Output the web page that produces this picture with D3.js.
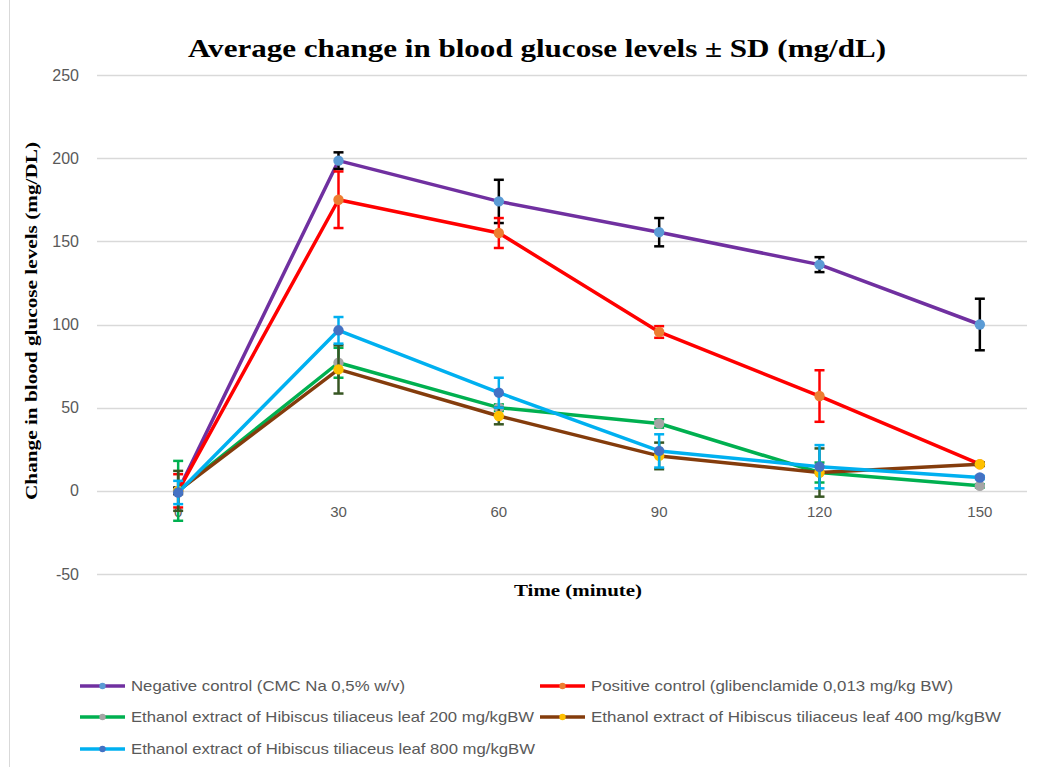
<!DOCTYPE html>
<html><head><meta charset="utf-8">
<script src="https://cdn.jsdelivr.net/npm/d3@7"></script>
<style>body{margin:0;background:#fff}svg{display:block}</style>
</head><body><div id="chart"></div>
<script>
const categories = ["0","30","60","90","120","150"];
const seriesNames = [
  "Negative control (CMC Na 0,5% w/v)",
  "Positive control (glibenclamide 0,013 mg/kg BW)",
  "Ethanol extract of Hibiscus tiliaceus leaf 200 mg/kgBW",
  "Ethanol extract of Hibiscus tiliaceus leaf 400 mg/kgBW",
  "Ethanol extract of Hibiscus tiliaceus leaf 800 mg/kgBW"
];
const negValues = [0, 198.5, 174, 155.5, 136, 100];
const negSD     = [2, 5, 13, 8.5, 4.5, 15.5];
const posValues = [0, 175, 155, 95.5, 57, 16];
const posSD     = [10, 17, 9, 3.5, 15.5, 1];
const e200Values = [0, 77, 50, 40.5, 11, 3];
const e200SD     = [18, 9, 2, 2.5, 6, 1];
const e400Values = [0, 73, 45, 21, 11, 16];
const e400SD     = [12, 14.5, 5, 8, 14.5, 1];
const e800Values = [-1, 96.5, 59, 24, 14.5, 8];
const e800SD     = [7, 8, 9, 10, 13, 1];
const yTicks = [-50, 0, 50, 100, 150, 200, 250];

const lineColors = ["#7030A0", "#FF0000", "#00B050", "#843C0C", "#00B0F0"];
const markerColors = ["#5B9BD5", "#ED7D31", "#A5A5A5", "#FFC000", "#4472C4"];
const errColors = ["#000000", "#FF0000", "#00B050", "#375623", "#00B0F0"];

const allValues = [negValues, posValues, e200Values, e400Values, e800Values];
const allSD = [negSD, posSD, e200SD, e400SD, e800SD];

const W = 1045, H = 767;
const svg = d3.select("#chart").append("svg").attr("width", W).attr("height", H);

svg.append("line").attr("x1", 9.5).attr("x2", 9.5).attr("y1", 0).attr("y2", H)
  .attr("stroke", "#d9d9d9").attr("stroke-width", 1);

const x = d3.scaleBand().domain(categories).range([98, 1060]);
const y = d3.scaleLinear().domain([-50, 250]).range([574, 75]);
const gridRight = 1027, gridLeft = 97;

svg.append("g").selectAll("line").data(yTicks).join("line")
  .attr("x1", gridLeft).attr("x2", gridRight)
  .attr("y1", d => Math.round(y(d)) + 0.5).attr("y2", d => Math.round(y(d)) + 0.5)
  .attr("stroke", "#d9d9d9").attr("stroke-width", 1.3);

const yAxis = d3.axisLeft(y).tickValues(yTicks).tickSize(0).tickPadding(0).tickFormat(d => String(d));
const gy = svg.append("g").attr("transform", "translate(79,0)").call(yAxis);
gy.select(".domain").remove();
gy.selectAll("text").attr("font-family", "Liberation Sans, Arial, sans-serif")
  .attr("font-size", 16).attr("fill", "#595959");

const xAxis = d3.axisBottom(x).tickSize(0).tickPadding(0);
const gx = svg.append("g").attr("transform", "translate(0,506)").call(xAxis);
gx.select(".domain").remove();
gx.selectAll("text").attr("font-family", "Liberation Sans, Arial, sans-serif")
  .attr("font-size", 15).attr("fill", "#595959");

const cx = c => x(c) + x.bandwidth() / 2;

allValues.forEach((vals, si) => {
  const pts = categories.map((c, i) => ({c, v: vals[i], sd: allSD[si][i]}));
  const g = svg.append("g");
  g.append("path").datum(pts)
    .attr("d", d3.line().x(d => cx(d.c)).y(d => y(d.v)))
    .attr("fill", "none").attr("stroke", lineColors[si]).attr("stroke-width", 3.5)
    .attr("stroke-linejoin", "round");
  const eb = g.selectAll(".eb").data(pts).join("g");
  eb.append("line").attr("x1", d => cx(d.c)).attr("x2", d => cx(d.c))
    .attr("y1", d => y(d.v - d.sd)).attr("y2", d => y(d.v + d.sd))
    .attr("stroke", errColors[si]).attr("stroke-width", 2.5);
  [1, -1].forEach(s => {
    eb.append("line").attr("x1", d => cx(d.c) - 5).attr("x2", d => cx(d.c) + 5)
      .attr("y1", d => y(d.v + s * d.sd)).attr("y2", d => y(d.v + s * d.sd))
      .attr("stroke", errColors[si]).attr("stroke-width", 2.5);
  });
  g.selectAll("circle").data(pts).join("circle")
    .attr("cx", d => cx(d.c)).attr("cy", d => y(d.v)).attr("r", 5.2)
    .attr("fill", markerColors[si]);
});

svg.append("text").attr("x", 188).attr("y", 57)
  .attr("font-family", "Liberation Serif, Times New Roman, serif").attr("font-weight", "bold")
  .attr("font-size", 25).attr("fill", "#000")
  .attr("textLength", 698).attr("lengthAdjust", "spacingAndGlyphs")
  .text("Average change in blood glucose levels ± SD (mg/dL)");

svg.append("text").attr("transform", "translate(37,500) rotate(-90)")
  .attr("font-family", "Liberation Serif, Times New Roman, serif").attr("font-weight", "bold")
  .attr("font-size", 17).attr("fill", "#000")
  .attr("textLength", 358).attr("lengthAdjust", "spacingAndGlyphs")
  .text("Change in blood  glucose levels (mg/DL)");

svg.append("text").attr("x", 514).attr("y", 596)
  .attr("font-family", "Liberation Serif, Times New Roman, serif").attr("font-weight", "bold")
  .attr("font-size", 17.5).attr("fill", "#000")
  .attr("textLength", 128).attr("lengthAdjust", "spacingAndGlyphs")
  .text("Time (minute)");

const legPos = [[80, 686], [540, 686], [80, 717], [540, 717], [80, 749]];
const legLen = [274, 362, 403, 410, 404];
seriesNames.forEach((name, si) => {
  const [lx, ly] = legPos[si];
  const g = svg.append("g").attr("transform", `translate(${lx},${ly})`);
  g.append("line").attr("x1", 0).attr("x2", 45).attr("y1", 0).attr("y2", 0)
    .attr("stroke", lineColors[si]).attr("stroke-width", 3.5);
  g.append("circle").attr("cx", 22.5).attr("cy", 0).attr("r", 3.2).attr("fill", markerColors[si]);
  g.append("text").attr("x", 51).attr("y", 0).attr("dy", "0.35em")
    .attr("font-family", "Liberation Sans, Arial, sans-serif").attr("font-size", 14.5)
    .attr("fill", "#595959")
    .attr("textLength", legLen[si]).attr("lengthAdjust", "spacingAndGlyphs")
    .text(name);
});
</script></body></html>
